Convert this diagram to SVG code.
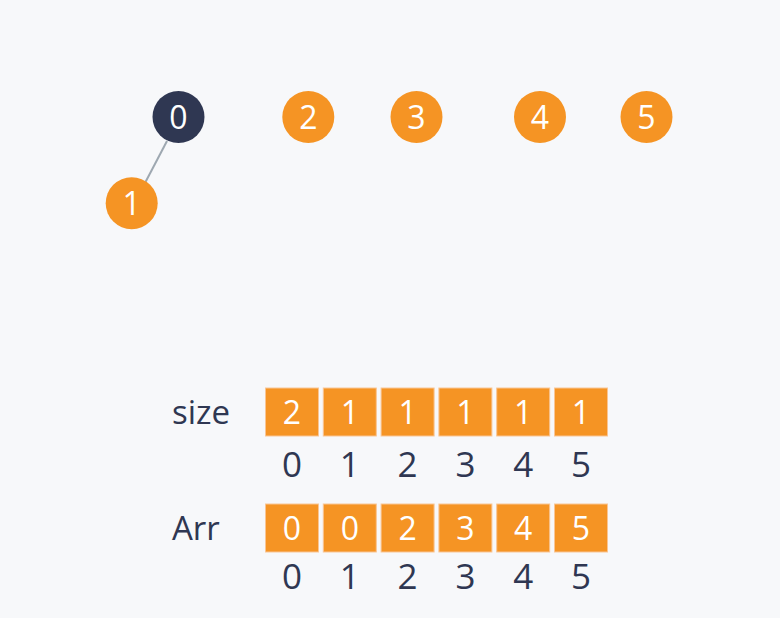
<svg xmlns="http://www.w3.org/2000/svg" width="780" height="618" viewBox="0 0 780 618">
<style>
.bg{fill:#F7F8FA}
.on{fill:#F59424}
.root{fill:#2F3752}
.nt{font-family:"Open Sans","Liberation Sans",sans-serif;font-size:32px;fill:#FFFFFF;text-anchor:middle}
.box{fill:#F59424;stroke:#F9C594;stroke-width:1}
.bt{font-family:"Open Sans","Liberation Sans",sans-serif;font-size:32px;fill:#FFFFFF;text-anchor:middle}
.it{font-family:"Open Sans","Liberation Sans",sans-serif;font-size:35px;fill:#2F3752;text-anchor:middle}
.lb{font-family:"Open Sans","Liberation Sans",sans-serif;font-size:33px;fill:#2F3752}
.edge{stroke:#9EA8B1;stroke-width:2;fill:none}
</style>
<rect class="bg" x="0" y="0" width="780" height="618"/>
<g id="connectors">
<line class="edge" x1="167" y1="141" x2="145.5" y2="182"/>
</g>
<g id="node0"><circle class="root" cx="178.5" cy="117" r="26"/><text class="nt" x="178.5" y="128.5">0</text></g>
<g id="node1"><circle class="on" cx="131.7" cy="203.2" r="26"/><text class="nt" x="131.7" y="214.7">1</text></g>
<g id="node2"><circle class="on" cx="308.3" cy="117" r="26"/><text class="nt" x="308.3" y="128.5">2</text></g>
<g id="node3"><circle class="on" cx="416.5" cy="117" r="26"/><text class="nt" x="416.5" y="128.5">3</text></g>
<g id="node4"><circle class="on" cx="540" cy="117" r="26"/><text class="nt" x="540" y="128.5">4</text></g>
<g id="node5"><circle class="on" cx="646.5" cy="117" r="26"/><text class="nt" x="646.5" y="128.5">5</text></g>
<g id="size-array">
<text class="lb" x="172" y="424">size</text>
<rect class="box" x="265.5" y="388" width="53" height="48"/><text class="bt" x="292" y="424">2</text>
<rect class="box" x="323.3" y="388" width="53" height="48"/><text class="bt" x="349.8" y="424">1</text>
<rect class="box" x="381.1" y="388" width="53" height="48"/><text class="bt" x="407.6" y="424">1</text>
<rect class="box" x="438.9" y="388" width="53" height="48"/><text class="bt" x="465.4" y="424">1</text>
<rect class="box" x="496.7" y="388" width="53" height="48"/><text class="bt" x="523.2" y="424">1</text>
<rect class="box" x="554.5" y="388" width="53" height="48"/><text class="bt" x="581" y="424">1</text>
<text class="it" x="292" y="477">0</text>
<text class="it" x="349.8" y="477">1</text>
<text class="it" x="407.6" y="477">2</text>
<text class="it" x="465.4" y="477">3</text>
<text class="it" x="523.2" y="477">4</text>
<text class="it" x="581" y="477">5</text>
</g>
<g id="arr-array">
<text class="lb" x="172" y="540">Arr</text>
<rect class="box" x="265.5" y="504" width="53" height="48"/><text class="bt" x="292" y="540">0</text>
<rect class="box" x="323.3" y="504" width="53" height="48"/><text class="bt" x="349.8" y="540">0</text>
<rect class="box" x="381.1" y="504" width="53" height="48"/><text class="bt" x="407.6" y="540">2</text>
<rect class="box" x="438.9" y="504" width="53" height="48"/><text class="bt" x="465.4" y="540">3</text>
<rect class="box" x="496.7" y="504" width="53" height="48"/><text class="bt" x="523.2" y="540">4</text>
<rect class="box" x="554.5" y="504" width="53" height="48"/><text class="bt" x="581" y="540">5</text>
<text class="it" x="292" y="589">0</text>
<text class="it" x="349.8" y="589">1</text>
<text class="it" x="407.6" y="589">2</text>
<text class="it" x="465.4" y="589">3</text>
<text class="it" x="523.2" y="589">4</text>
<text class="it" x="581" y="589">5</text>
</g>
</svg>
